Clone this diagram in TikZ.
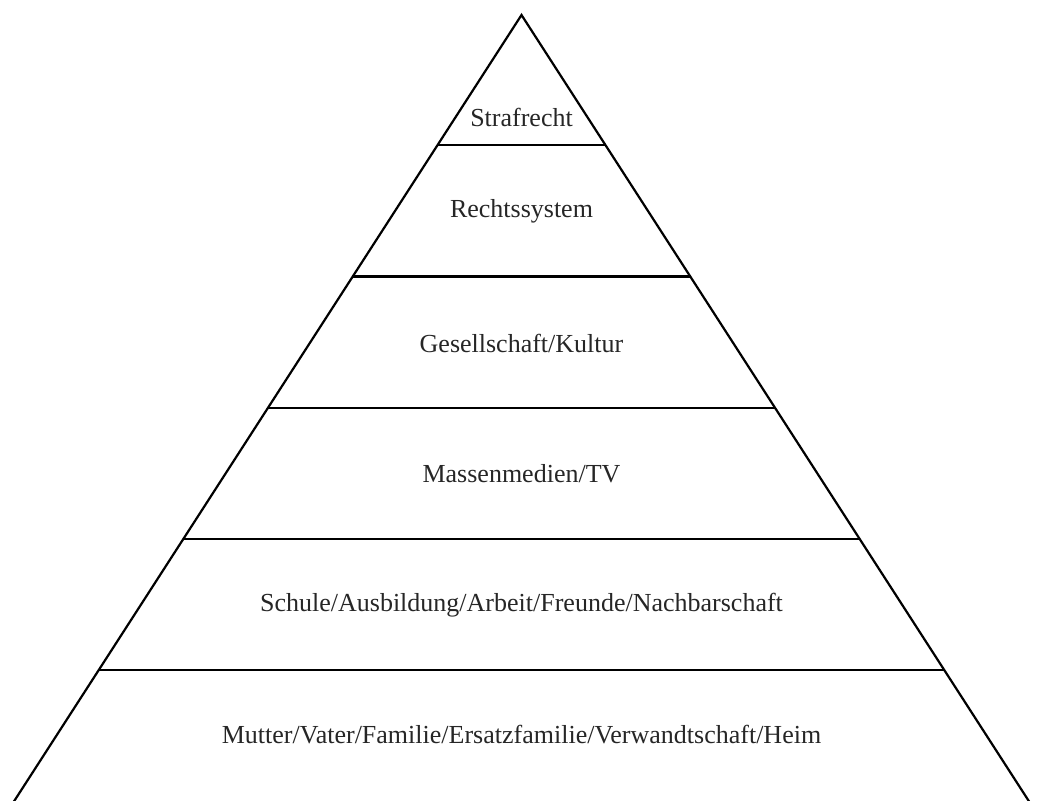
\documentclass[tikz,border=0pt]{standalone}
\usepackage{fontspec}
\setmainfont{Liberation Serif}
\usetikzlibrary{calc}
\begin{document}
\begin{tikzpicture}[x=0.5pt,y=-0.5pt,
  edge/.style={line width=1.1pt,black},
  lbl/.style={font=\fontsize{13}{15}\selectfont,inner sep=0pt,text=black!85}]
\useasboundingbox (0,0) rectangle (1037,801);
\clip (0,0) rectangle (1037,801);
\coordinate (apex) at (521.5,15);
\coordinate (bl) at (11,806);
\coordinate (br) at (1032,806);
\draw[edge] (bl) -- (apex) -- (br);
\foreach \yy/\nm in {145/a,276.5/b,408/c,539/d,670/e}{
  \pgfmathsetmacro{\t}{(\yy-15)/(806-15)}
  \coordinate (L\nm) at ($(apex)!\t!(bl)$);
  \coordinate (R\nm) at ($(apex)!\t!(br)$);
  \draw[edge] (L\nm) -- (R\nm);
}
\node[lbl] (t1) at (521.5,117) {Strafrecht};
\node[lbl] (t2) at (521.5,211) {Rechtssystem};
\node[lbl] (t3) at (521.5,343) {Gesellschaft/Kultur};
\node[lbl] (t4) at (521.5,474) {Massenmedien/TV};
\node[lbl] (t5) at (521.5,605) {Schule/Ausbildung/Arbeit/Freunde/Nachbarschaft};
\node[lbl] (t6) at (521.5,735) {Mutter/Vater/Familie/Ersatzfamilie/Verwandtschaft/Heim};
\end{tikzpicture}
\end{document}
